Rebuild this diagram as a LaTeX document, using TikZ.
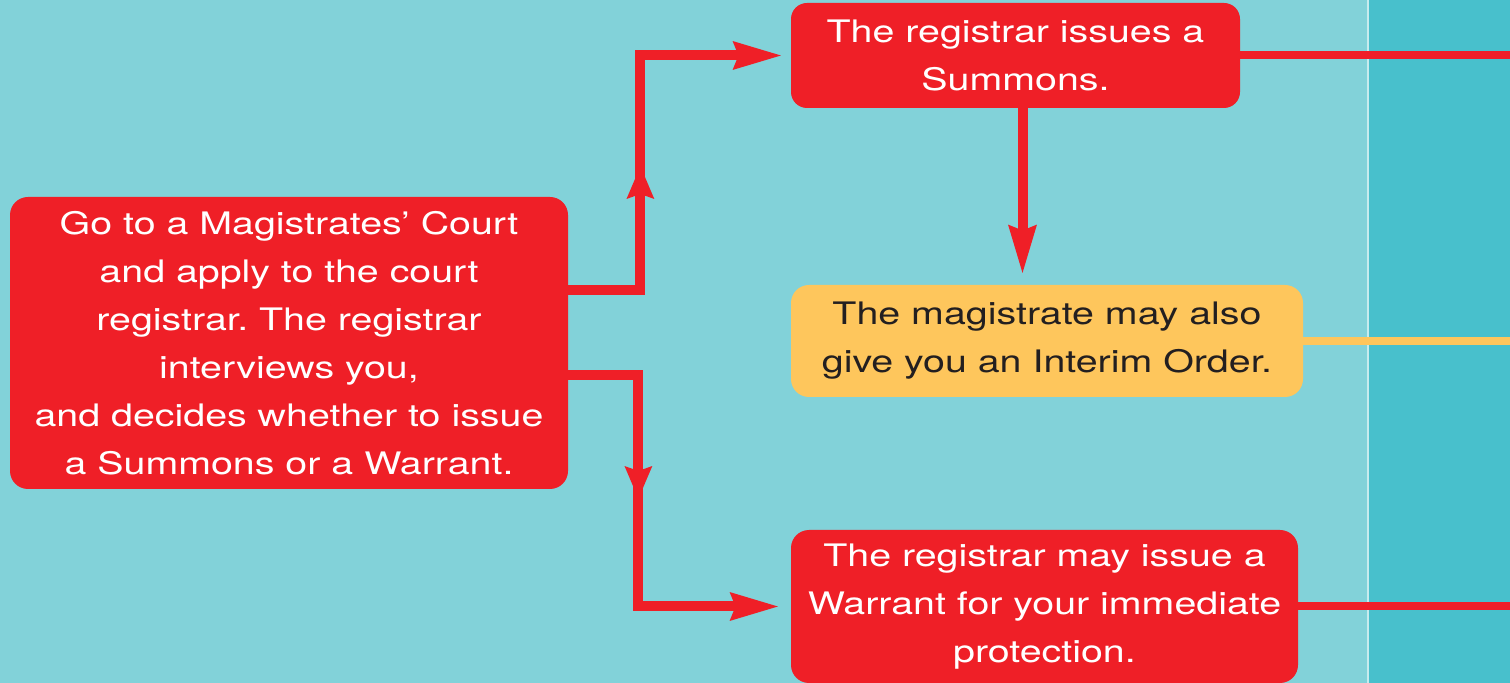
\documentclass[tikz,border=0pt]{standalone}
\usepackage{fontspec}
\setmainfont{TeX Gyre Heros}[FakeStretch=1.27]
\usepackage{xcolor}
\usetikzlibrary{calc}
\usetikzlibrary{arrows.meta}
\usetikzlibrary{decorations.markings}
\definecolor{bgblue}{HTML}{82D2D9}
\definecolor{panelblue}{HTML}{48C0CC}
\definecolor{boxred}{HTML}{EF1F27}
\definecolor{boxyellow}{HTML}{FEC65C}
\definecolor{darktext}{HTML}{231F20}
\frenchspacing

\begin{document}
\begin{tikzpicture}[x=0.5pt,y=-0.5pt]
		\tikzset{
			redbox/.style={fill=boxred,text=white,rounded corners=9pt,inner sep=0pt,align=center,font=\fontsize{15.5pt}{24pt}\selectfont},
			yellowbox/.style={redbox,fill=boxyellow,text=darktext},
			endtip/.tip={Stealth[length=24pt,width=13pt,inset=2pt]},
			midtip/.tip={Stealth[length=16pt,width=13pt,inset=2pt]},
			redline/.style={draw=boxred,line width=5pt,line join=miter},
			outline/.style={line width=4pt}
		}
		\useasboundingbox (0,0) rectangle (1510,683);
		\fill[bgblue] (0,0) rectangle (1368,683);
		\fill[panelblue] (1368,0) rectangle (1510,683);
		\draw[white!55!bgblue,line width=0.6pt] (1368,0) -- (1368,683);
		\coordinate (rim) at (1510,0);
		
		\node[redbox,minimum width=279pt,minimum height=146pt] (go) at (289,343)
			{Go to a Magistrates’ Court\\ and apply to the court\\ registrar. The registrar\\ interviews you,\\ and decides whether to issue\\ a Summons or a Warrant.};
		\node[redbox,minimum width=224.5pt,minimum height=52.5pt,rounded corners=8pt] (summons) at (1015.5,55.5)
			{The registrar issues a\\ Summons.};
		\node[yellowbox,minimum width=256pt,minimum height=56pt] (order) at (1047,341)
			{The magistrate may also\\ give you an Interim Order.};
		\node[redbox,minimum width=253.5pt,minimum height=76.5pt] (warrant) at (1044.5,606.5)
			{The registrar may issue a\\ Warrant for your immediate\\ protection.};
		
		\draw[redline,-endtip,shorten >=4pt,postaction={decorate},
			decoration={markings,mark=at position 98pt with {\arrow{midtip}}}]
			($(go.east)+(0,-53)$) -- ++(72,0) |- (summons.west);
		\draw[redline,-endtip,shorten >=5.5pt,postaction={decorate},
			decoration={markings,mark=at position 97pt with {\arrow{midtip}}}]
			($(go.east)+(0,32)$) -- ++(70,0) |- (warrant.west);
		\draw[redline,-endtip,shorten >=5pt] ($(summons.south)+(7,0)$) coordinate (drop) -- (drop |- order.north);
		
		\draw[boxred,outline] (summons.east) -- (summons.east -| rim);
		\draw[boxyellow,outline] (order.east) -- (order.east -| rim);
		\draw[boxred,outline] (warrant.east) -- (warrant.east -| rim);
		\end{tikzpicture}
\end{document}
